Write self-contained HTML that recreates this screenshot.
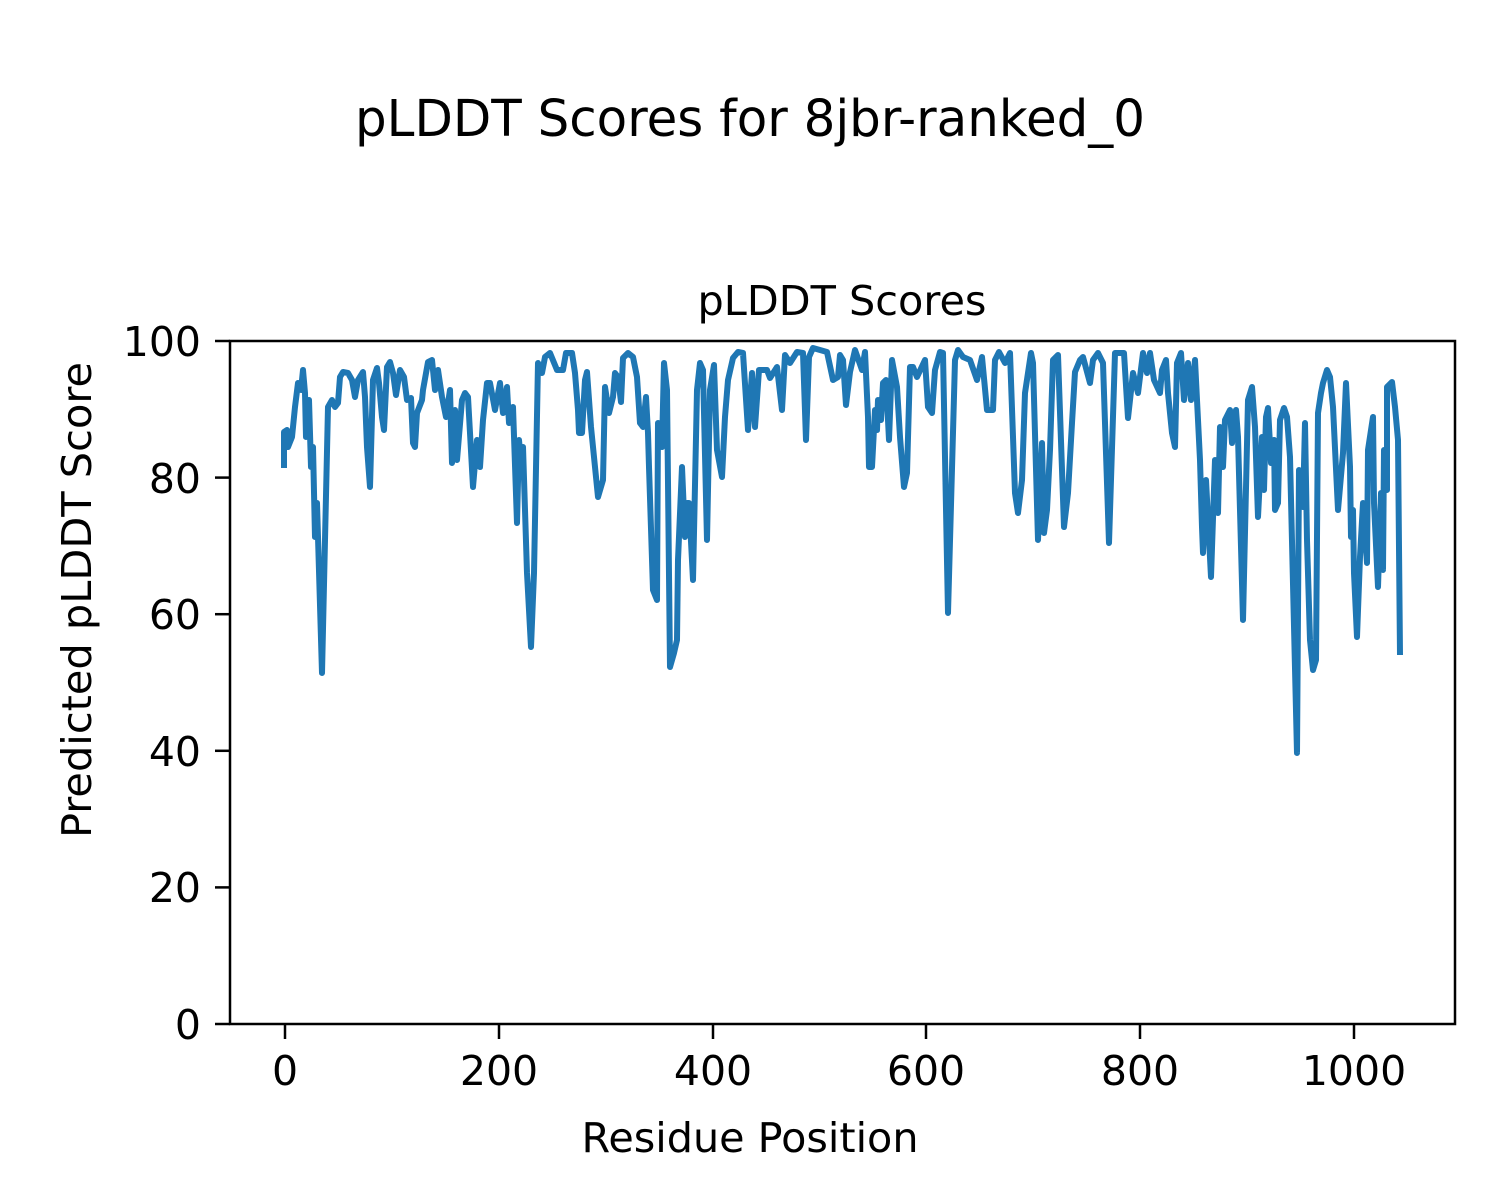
<!DOCTYPE html>
<html><head><meta charset="utf-8"><style>
html,body{margin:0;padding:0;background:#fff;}
svg{display:block;}
text{font-family:"DejaVu Sans","Liberation Sans",sans-serif;fill:#000;}
</style></head><body>
<svg width="1500" height="1200" viewBox="0 0 1500 1200" xmlns="http://www.w3.org/2000/svg">
<rect width="1500" height="1200" fill="#fff"/>
<text x="750" y="136" font-size="51" text-anchor="middle" textLength="790" lengthAdjust="spacingAndGlyphs">pLDDT Scores for 8jbr-ranked_0</text>
<text x="842" y="315" font-size="41" text-anchor="middle" textLength="289" lengthAdjust="spacingAndGlyphs">pLDDT Scores</text>
<g stroke="#000" stroke-width="2.5">
<line x1="215" y1="1024" x2="230" y2="1024"/>
<line x1="215" y1="887.4" x2="230" y2="887.4"/>
<line x1="215" y1="750.8" x2="230" y2="750.8"/>
<line x1="215" y1="614.2" x2="230" y2="614.2"/>
<line x1="215" y1="477.6" x2="230" y2="477.6"/>
<line x1="215" y1="341" x2="230" y2="341"/>
<line x1="285" y1="1024" x2="285" y2="1039"/>
<line x1="499" y1="1024" x2="499" y2="1039"/>
<line x1="713" y1="1024" x2="713" y2="1039"/>
<line x1="926" y1="1024" x2="926" y2="1039"/>
<line x1="1140" y1="1024" x2="1140" y2="1039"/>
<line x1="1354" y1="1024" x2="1354" y2="1039"/>
</g>
<g font-size="41" text-anchor="end">
<text x="201" y="1039">0</text>
<text x="201" y="902">20</text>
<text x="201" y="766">40</text>
<text x="201" y="629">60</text>
<text x="201" y="493">80</text>
<text x="201" y="356">100</text>
</g>
<g font-size="41" text-anchor="middle">
<text x="285" y="1085">0</text>
<text x="499" y="1085">200</text>
<text x="713" y="1085">400</text>
<text x="926" y="1085">600</text>
<text x="1140" y="1085">800</text>
<text x="1354" y="1085">1000</text>
</g>
<text x="750" y="1152" font-size="41" text-anchor="middle" textLength="337" lengthAdjust="spacingAndGlyphs">Residue Position</text>
<text transform="translate(91,600) rotate(-90)" font-size="41" text-anchor="middle" textLength="476" lengthAdjust="spacingAndGlyphs">Predicted pLDDT Score</text>
<polyline fill="none" stroke="#1f77b4" stroke-width="6" stroke-linejoin="round" points="
284,468 284,432 287,430 288,447 292,437 295,407 298,383 301,390 303,370 305,393 306,437 309,400 311,467 313,447 315,537 317,503 322,673 325,540 328,407 332,400 335,407 338,403 340,377 343,372 348,373 352,380 355,397 358,380 363,372 365,397 367,447 370,487 373,380 377,368 379,383 382,417 384,430 387,367 390,362 393,373 396,395 400,370 404,377 407,400 411,398 413,443 415,447 417,413 422,400 423,390 428,362 432,360 435,390 438,370 442,397 446,417 450,390 452,463 455,410 457,460 462,400 465,393 468,397 473,487 477,440 480,467 483,420 487,383 490,383 495,410 500,383 503,413 507,387 509,423 513,407 517,523 519,440 522,473 523,447 527,573 531,647 534,573 538,363 542,373 545,357 550,353 557,370 563,370 566,353 572,353 575,373 578,410 579,433
582,433 585,380 587,372 591,427 593,447 598,497 603,480 605,387 609,413 613,397 615,373 618,377 621,402 623,358 628,353 633,357 637,377 640,423 643,427 646,397 648,433 649,467 653,590 657,600 658,423 662,447 664,363 667,390 670,667 674,653 677,640 678,560 682,467 685,537 687,503 689,503 693,580 697,390 700,363 703,370 707,540 710,390 714,365 717,450 722,477 725,417 728,380 733,358 738,352 743,353 748,430 752,373 755,427 759,370 767,370 770,378 777,367 782,410 785,355 790,363 797,352 803,353 806,440 809,357 813,348 827,352 833,380 838,377 840,355 843,360 846,405 850,372 855,350 862,370 865,352 868,417 869,467
872,467 875,410 877,430 878,400 881,420 883,383 886,380 889,440 892,360 897,387 900,437 904,487 907,473 910,367 913,367 917,377 925,360 928,407 932,413 935,370 940,352 943,353 948,613 955,360 958,350 963,357 970,360 977,380 982,357 987,410 993,410 995,360 999,352 1005,363 1010,353 1015,493 1018,513 1022,480 1025,393 1031,353 1033,363 1038,540 1042,443 1044,533 1047,510 1050,450 1053,360 1058,355 1064,527 1068,493 1072,423 1075,372 1080,360 1083,357 1090,383 1093,360 1098,353 1103,363 1109,543 1115,353 1124,353 1128,418 1133,373 1138,393 1143,353 1147,373 1150,353
1154,380 1160,393 1162,370 1166,360 1168,393 1172,433 1175,447 1177,363 1181,353 1184,400 1188,363 1191,400 1195,360 1200,460 1202,527 1203,553 1206,480 1211,577 1215,460 1218,513 1220,427 1223,467 1225,420 1230,410 1232,443 1236,410 1238,437 1243,620 1248,400 1252,387 1255,427 1258,517 1262,437 1264,490 1266,417 1268,408 1271,463 1274,440 1275,510 1278,503 1280,420 1284,408 1287,417 1290,457 1297,753 1299,470 1303,507 1305,423 1307,540 1310,640 1313,670 1316,660 1318,413 1321,393 1323,383 1327,370 1330,377 1333,407 1338,510 1343,453 1346,383 1350,467 1351,537 1353,510 1354,573 1357,637 1360,557 1363,503 1367,563 1368,450 1373,417 1374,503 1378,587 1381,493 1383,570 1384,450 1387,490 1387,387 1392,382 1395,407 1398,440 1400,655"/>
<rect x="230" y="341" width="1225" height="683" fill="none" stroke="#000" stroke-width="2.5"/>
</svg>
</body></html>
